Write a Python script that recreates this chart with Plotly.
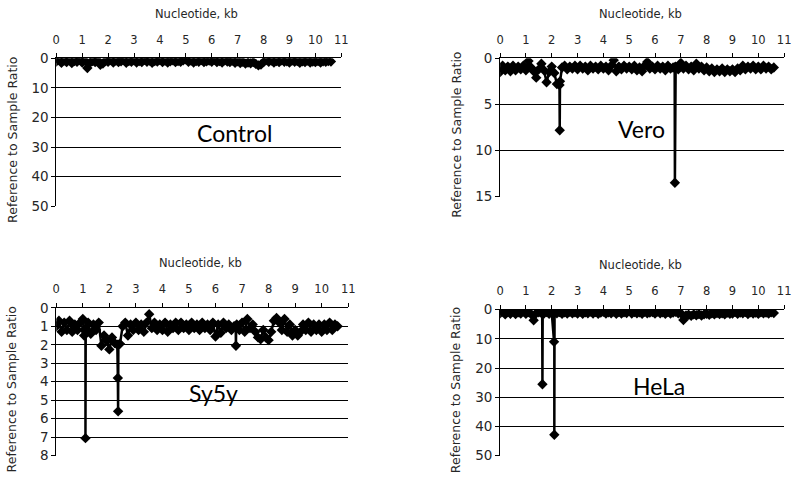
import plotly.graph_objects as go

# ---------------- data ----------------
# evenly spaced sampling positions along the genome (kb)
x_start, x_step, n_pts = 0.0, 0.1, 107
positions_kb = [round(x_start + i * x_step, 2) for i in range(n_pts)]

control_vals = [
    1.1, 0.6, 1.5, 0.8, 1.3, 0.7, 1.6, 0.9, 1.2, 0.5,
    1.4, 0.8, 3.3, 1.5, 0.9, 1.3, 0.7, 2.2, 1.8, 0.9,
    1.2, 0.6, 1.4, 0.8, 1.3, 1.0, 0.6, 1.5, 0.9, 1.2,
    0.7, 1.4, 0.9, 1.3, 0.5, 1.2, 0.8, 1.5, 0.9, 1.1,
    0.6, 1.3, 0.8, 1.4, 1.0, 0.7, 1.3, 0.9, 1.2, 0.7,
    0.3, 1.2, 0.8, 1.4, 0.9, 1.2, 0.6, 1.3, 1.0, 0.8,
    1.2, 0.5, 1.3, 0.9, 1.4, 0.7, 1.1, 1.3, 0.8, 1.5,
    1.0, 1.6, 1.2, 1.8, 1.4, 1.7, 1.3, 1.9, 2.4, 2.1,
    1.3, 0.6, 1.2, 0.8, 1.4, 0.9, 1.3, 0.7, 1.2, 1.0,
    1.4, 0.8, 1.2, 0.9, 1.5, 1.0, 1.3, 0.8, 1.4, 1.1,
    1.3, 0.9, 1.4, 1.0, 1.2, 0.9, 1.1,
]
control_spike_x = []
control_spike_y = []

vero_vals = [
    1.5, 0.8, 1.3, 0.9, 1.4, 0.8, 1.3, 0.9, 1.2, 0.8,
    1.3, 0.3, 1.0, 1.4, 2.1, 1.2, 0.6, 1.3, 2.6, 1.5,
    0.9, 1.6, 2.8, 2.9, 1.0, 0.8, 1.2, 0.9, 1.1, 0.8,
    1.2, 0.8, 1.1, 0.9, 1.3, 0.8, 1.1, 0.9, 1.2, 0.8,
    1.1, 0.9, 1.3, 0.8, 0.2, 1.4, 0.9, 1.2, 0.8, 1.1,
    0.9, 1.2, 0.8, 1.3, 1.0, 1.4, 0.8, 0.4, 1.1, 0.9,
    1.2, 0.8, 1.1, 0.9, 1.3, 0.8, 1.1, 1.0, 0.9, 1.2,
    0.5, 1.1, 0.8, 1.2, 0.9, 1.3, 0.6, 1.1, 0.9, 1.3,
    1.0, 1.4, 1.1, 1.5, 1.2, 1.4, 1.1, 1.5, 1.2, 1.4,
    1.2, 1.5, 1.1, 1.3, 0.8, 1.2, 0.9, 1.1, 0.8, 1.2,
    0.9, 1.2, 0.8, 1.1, 0.9, 1.2, 1.0,
]
vero_spike_x = [2.31, 2.32, 6.76, 6.77, 6.78]
vero_spike_y = [7.8, 2.5, 1.0, 13.5, 1.0]

sy5y_vals = [
    1.0, 0.7, 1.3, 0.8, 1.2, 0.7, 1.3, 0.9, 1.2, 0.8,
    0.6, 1.1, 0.8, 1.4, 0.9, 1.2, 0.8, 2.05, 1.5, 1.8,
    2.25, 1.6, 1.9, 2.0, 1.95, 1.0, 0.8, 1.5, 0.9, 1.2,
    0.8, 1.2, 0.9, 1.3, 0.8, 0.35, 1.1, 0.8, 1.2, 0.9,
    1.2, 0.8, 1.3, 0.9, 1.1, 0.8, 1.2, 0.8, 1.1, 0.9,
    1.2, 0.8, 1.1, 0.9, 1.2, 0.8, 1.1, 0.9, 1.2, 0.8,
    1.55, 0.9, 1.35, 0.8, 1.1, 0.9, 1.2, 1.0, 0.9, 1.2,
    0.8, 1.3, 0.6, 1.1, 0.9, 1.3, 1.6, 1.7, 1.2, 1.6,
    1.75, 1.3, 0.7, 0.55, 0.8, 1.2, 0.6, 1.3, 0.9, 1.5,
    1.2, 1.5, 1.3, 0.9, 1.2, 0.8, 1.3, 0.9, 1.2, 0.9,
    1.3, 0.9, 1.2, 0.8, 1.2, 0.9, 1.0,
]
sy5y_spike_x = [1.05, 1.09, 1.10, 1.11, 2.32, 2.33, 2.34, 6.76, 6.77, 6.78]
sy5y_spike_y = [1.5, 1.2, 7.05, 1.3, 3.8, 5.6, 2.0, 1.0, 2.05, 1.0]

hela_vals = [
    1.2, 0.6, 1.6, 0.8, 1.4, 0.7, 1.5, 0.9, 1.3, 0.6,
    1.4, 0.8, 1.5, 3.6, 1.2, 0.9, 1.1, 1.3, 0.8, 1.4,
    1.0, 1.2, 1.2, 0.8, 1.4, 0.9, 1.3, 0.7, 1.2, 0.9,
    1.3, 0.7, 1.4, 0.9, 1.2, 0.6, 1.3, 0.8, 1.4, 1.0,
    0.7, 1.3, 0.9, 1.2, 0.6, 1.4, 0.8, 1.3, 0.9, 1.1,
    0.4, 1.3, 0.8, 1.2, 0.9, 1.4, 0.7, 1.2, 1.0, 0.8,
    1.3, 0.6, 1.2, 0.9, 1.4, 0.8, 1.3, 1.0, 0.7, 1.2,
    1.2, 3.5, 2.0, 1.7, 2.1, 1.6, 1.9, 1.5, 2.0, 1.6,
    1.4, 1.7, 1.2, 1.6, 1.1, 1.5, 1.2, 1.6, 1.0, 1.4,
    1.3, 0.8, 1.4, 1.0, 1.2, 0.8, 1.5, 0.9, 1.3, 1.0,
    1.4, 0.9, 1.2, 1.0, 1.3, 0.9, 1.1,
]
hela_spike_x = [1.63, 1.64, 1.65, 2.09, 2.10, 2.11]
hela_spike_y = [1.0, 25.5, 1.0, 11.0, 42.8, 1.0]

panel_names = ["Control", "Vero", "Sy5y", "HeLa"]
y_max = [50, 15, 8, 50]
y_step = [10, 5, 1, 10]
x_ticks = list(range(0, 12))

# ---------------- figure ----------------
W, H = 800, 486

def px_x(p):
    return p / W

def px_y(p):
    return 1 - p / H

# pixel boxes (left, right, top, bottom)
boxes = [
    (53, 342, 52, 205),
    (503, 791, 52, 195),
    (53, 349, 310, 463),
    (503, 791, 312, 463),
]

series = [
    (control_vals, control_spike_x, control_spike_y),
    (vero_vals, vero_spike_x, vero_spike_y),
    (sy5y_vals, sy5y_spike_x, sy5y_spike_y),
    (hela_vals, hela_spike_x, hela_spike_y),
]

fig = go.Figure()
FONT = "DejaVu Sans"
TXT = "#262626"

for i, ((vals, sx, sy), box, name) in enumerate(zip(series, boxes, panel_names)):
    n = i + 1
    xa = "x" if n == 1 else f"x{n}"
    ya = "y" if n == 1 else f"y{n}"
    pts = sorted(list(zip(positions_kb, vals)) + list(zip(sx, sy)), key=lambda t: t[0])
    fig.add_trace(go.Scatter(
        x=[p[0] for p in pts], y=[p[1] for p in pts],
        mode="lines+markers",
        line=dict(color="black", width=2.5),
        marker=dict(symbol="diamond", size=8, color="black"),
        xaxis=xa, yaxis=ya, showlegend=False, hoverinfo="x+y",
    ))
    l, r, t, b = box
    xkey = "xaxis" if n == 1 else f"xaxis{n}"
    ykey = "yaxis" if n == 1 else f"yaxis{n}"
    fig.update_layout(**{
        xkey: dict(
            domain=[px_x(l), px_x(r)], anchor=ya, side="top",
            range=[0, 11], tickvals=x_ticks, ticks="outside", ticklen=4,
            tickcolor="black", showline=True, linecolor="black", linewidth=1,
            showgrid=False, zeroline=False, ticklabelstandoff=5,
            tickfont=dict(family=FONT, size=11.5, color=TXT),
        ),
        ykey: dict(
            domain=[px_y(b), px_y(t)], anchor=xa,
            range=[y_max[i] + 0.0001 * y_max[i], 0], dtick=y_step[i], tick0=0,
            ticks="outside", ticklen=4, tickcolor="black",
            showline=True, linecolor="black", linewidth=1,
            showgrid=True, gridcolor="black", gridwidth=1, zeroline=False,
            tickfont=dict(family=FONT, size=13.5, color=TXT),
        ),
    })
    # x axis title
    fig.add_annotation(x=px_x((l + r) / 2 - 2), y=px_y(t - 46), xref="paper", yref="paper",
                       text="Nucleotide, kb", showarrow=False,
                       font=dict(family=FONT, size=11.5, color=TXT),
                       xanchor="center", yanchor="middle")
    # y axis title
    fig.add_annotation(x=px_x(l - 45), y=px_y((t + b) / 2 + 8), xref="paper", yref="paper",
                       text="Reference to Sample Ratio", showarrow=False, textangle=-90,
                       font=dict(family=FONT, size=12.5, color=TXT),
                       xanchor="center", yanchor="middle")

# panel labels
label_pos = [(234, 129), (646, 125), (212, 398), (664, 391)]
for name, (lx, ly) in zip(panel_names, label_pos):
    fig.add_annotation(x=px_x(lx), y=px_y(ly), xref="paper", yref="paper",
                       text=name, showarrow=False,
                       font=dict(family="Lato", size=23, color="black"),
                       xanchor="center", yanchor="middle")

fig.update_layout(
    width=W, height=H, margin=dict(l=0, r=0, t=0, b=0),
    paper_bgcolor="white", plot_bgcolor="white",
)

fig.write_html("out.html", config={"displayModeBar": False},
               post_script="document.body.style.margin='0';")
